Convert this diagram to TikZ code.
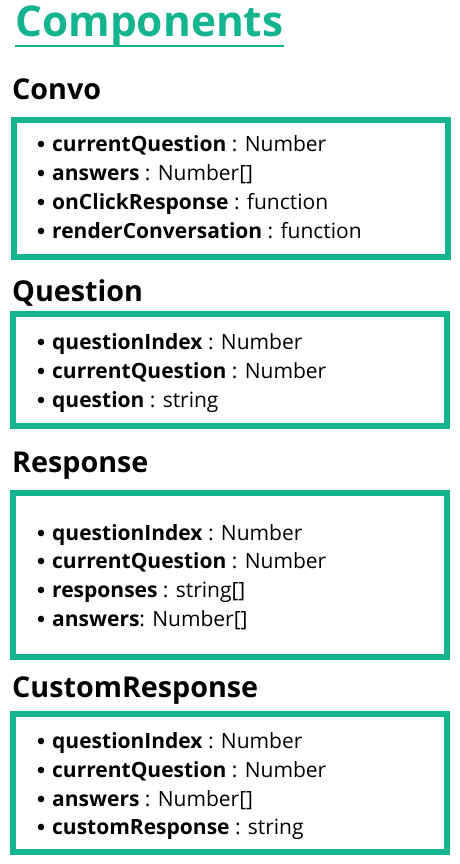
\documentclass[tikz,border=0pt]{standalone}
\usepackage{fontspec}
\setmainfont{Open Sans}
\definecolor{compgreen}{HTML}{14B48F}
\tikzset{
  title/.style={anchor=base west, inner sep=0pt, text=compgreen, font=\bfseries\fontsize{42.4}{46}\selectfont},
  heading/.style={anchor=base west, inner sep=0pt, font=\bfseries\fontsize{28.7}{32}\selectfont},
  compbox/.style={draw=compgreen, line width=6pt, minimum width=434pt, inner sep=0pt},
  entry/.style={anchor=base west, inner sep=0pt, font=\fontsize{21}{24}\selectfont},
}
\begin{document}
\begin{tikzpicture}[x=1pt,y=-1pt]
  \useasboundingbox (0,0) rectangle (459,864);
  \node [title] (comp) at (15,37) {Components};
  \draw [compgreen, line width=2pt] ([yshift=1pt]comp.south west) -- ([yshift=1pt]comp.south east);

  \node [heading] (convo) at (12,100) {Convo};
  \node [compbox, minimum height=137pt] (convobox) at (231,188.5) {};
  \foreach \y/\k/\t [count=\i] in {151/currentQuestion/ : Number, 180/answers/ : Number[],
      209/onClickResponse/ : function, 238/renderConversation/ : function} {
    \fill (41,\y-7) circle (3.3);
    \node [entry] (convo-\i) at (52,\y) {\textbf{\k}\t};
  }

  \node [heading] (question) at (12,301) {Question};
  \node [compbox, minimum height=112pt] (questionbox) at (230,370) {};
  \foreach \y/\k/\t [count=\i] in {349/questionIndex/ : Number, 378/currentQuestion/ : Number,
      407/question/ : string} {
    \fill (41,\y-7) circle (3.3);
    \node [entry] (question-\i) at (52,\y) {\textbf{\k}\t};
  }

  \node [heading] (response) at (12,472) {Response};
  \node [compbox, minimum height=164pt] (responsebox) at (230,575) {};
  \foreach \y/\k/\t [count=\i] in {540/questionIndex/ : Number, 568/currentQuestion/ : Number,
      597/responses/ : string[], 626/answers/: Number[]} {
    \fill (41,\y-7) circle (3.3);
    \node [entry] (response-\i) at (52,\y) {\textbf{\k}\t};
  }

  \node [heading] (custom) at (12,697) {CustomResponse};
  \node [compbox, minimum height=138pt] (custombox) at (230,783) {};
  \foreach \y/\k/\t [count=\i] in {748/questionIndex/ : Number, 777/currentQuestion/ : Number,
      806/answers/ : Number[], 834/customResponse/ : string} {
    \fill (41,\y-7) circle (3.3);
    \node [entry] (custom-\i) at (52,\y) {\textbf{\k}\t};
  }
\end{tikzpicture}
\end{document}
